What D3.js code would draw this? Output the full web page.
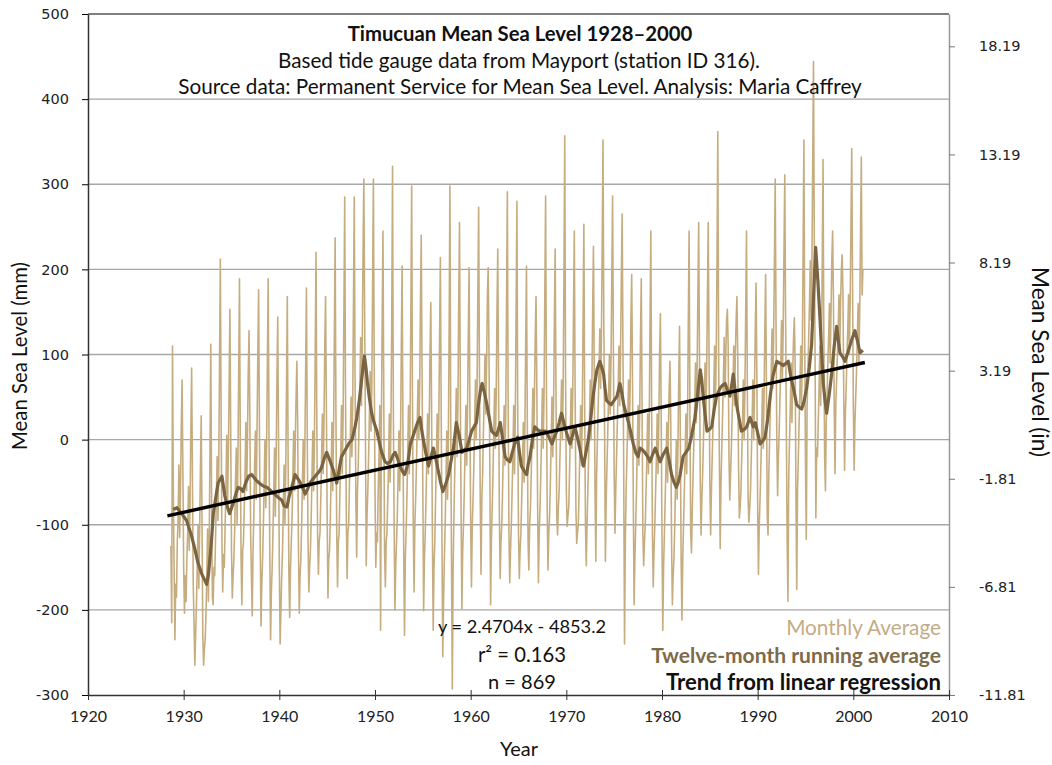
<!DOCTYPE html>
<html>
<head>
<meta charset="utf-8">
<title>Timucuan Mean Sea Level 1928–2000</title>
<script src="https://cdn.jsdelivr.net/npm/d3@7"></script>
<style>
  body { margin: 0; background: #fff; }
  text { font-family: Lato, "Open Sans", sans-serif; fill: #111; }
  .tick text.num { font-family: "DejaVu Sans", sans-serif; }
</style>
</head>
<body>
<script>
var width = 1052, height = 765;
var plotLeft = 88, plotRight = 949, plotTop = 14, plotBottom = 695;

// axis ticks
var yearTicks = [1920, 1930, 1940, 1950, 1960, 1970, 1980, 1990, 2000, 2010];
var mmTicks = [-300, -200, -100, 0, 100, 200, 300, 400, 500];
var inchTicks = ["-11.81", "-6.81", "-1.81", "3.19", "8.19", "13.19", "18.19"];

// monthly mean sea level (mm), one row per year, first row starts Aug 1928
var firstYear = 1928, firstMonth = 8;
var monthlyMm = [
  [-125,-215,110,-60,-150],
  [-235,-170,-185,-120,-95,-30,-115,-60,15,70,-35,-150],
  [-204,-160,-190,-140,-110,-55,-130,-75,10,84,-45,-170],
  [-215,-265,-230,-195,-150,-100,-175,-110,-35,28,-95,-230],
  [-265,-245,-235,-205,-160,-105,-190,-125,-15,112,-65,-185],
  [-194,-150,-160,-115,-70,-20,-95,-35,90,212,25,-120],
  [-179,-135,-150,-100,-60,5,-80,-20,60,153,10,-130],
  [-186,-160,-140,-105,-50,-10,-100,-30,75,189,0,-140],
  [-194,-130,-120,-80,-40,20,-60,0,80,128,30,-110],
  [-160,-207,-130,-90,-30,10,-70,10,100,176,20,-120],
  [-219,-170,-140,-100,-50,0,-80,-10,90,189,10,-130],
  [-235,-180,-150,-110,-60,-10,-90,-20,70,144,0,-150],
  [-240,-200,-160,-130,-80,-30,-100,-40,60,168,-20,-160],
  [-209,-150,-120,-90,-40,10,-60,0,50,92,20,-130],
  [-204,-160,-140,-100,-50,0,-70,-10,80,178,10,-120],
  [-179,-150,-130,-90,-40,10,-60,0,100,220,20,-110],
  [-158,-120,-110,-70,-20,30,-40,20,110,168,40,-90],
  [-186,-140,-130,-90,-40,20,-60,10,120,237,30,-110],
  [-173,-120,-110,-60,-20,40,-40,30,150,285,60,-90],
  [-163,-110,-100,-50,0,50,-20,40,160,285,70,-70],
  [-138,-60,-30,20,60,120,40,110,220,306,150,10],
  [-148,-90,-60,-20,30,80,10,60,180,306,90,-60],
  [-150,-110,-120,-60,-20,40,-224,20,140,245,50,-130],
  [-173,-120,-110,-70,-30,30,-50,20,140,321,40,-100],
  [-200,-150,-120,-90,-40,10,-60,0,110,204,20,-130],
  [-230,-140,-110,-70,-20,40,-40,30,150,298,50,-100],
  [-179,-100,-70,-30,20,70,0,60,160,240,80,-60],
  [-201,-140,-110,-70,-20,30,-40,20,100,161,30,-110],
  [-224,-150,-120,-70,-20,30,-40,20,120,214,40,-120],
  [-255,-190,-140,-100,-50,10,-70,0,130,298,20,-150],
  [-293,-150,-90,-40,10,60,-20,40,160,255,60,-90],
  [-199,-130,-100,-60,-10,40,-30,30,120,202,40,-100],
  [-173,-100,-70,-30,20,70,0,60,170,273,80,-70],
  [-158,-70,-40,10,50,100,30,90,170,202,100,-30],
  [-194,-120,-80,-40,10,60,-10,50,150,224,60,-90],
  [-163,-120,-100,-60,-10,40,-30,30,160,291,50,-110],
  [-168,-130,-100,-60,-20,40,-40,30,150,280,40,-110],
  [-163,-130,-110,-70,-30,20,-50,10,110,204,30,-120],
  [-153,-100,-80,-40,10,60,-10,50,120,168,60,-80],
  [-168,-110,-80,-40,10,60,-10,50,170,286,70,-80],
  [-153,-110,-90,-50,0,50,-20,40,140,224,60,-90],
  [-112,-80,-60,-20,20,70,0,60,190,357,80,-60],
  [-102,-90,-80,-40,10,60,-10,50,150,245,60,-80],
  [-122,-110,-100,-60,-10,40,-30,30,140,253,40,-100],
  [-148,-100,-60,-20,20,70,0,60,150,227,80,-60],
  [-143,-40,0,40,80,130,60,120,230,352,140,10],
  [-143,-70,-30,10,50,100,30,90,190,286,110,-40],
  [-110,-60,-20,20,60,110,40,100,190,265,110,-40],
  [-240,-120,-60,-20,20,70,0,60,140,194,70,-70],
  [-194,-140,-100,-60,-10,40,-30,30,120,189,40,-110],
  [-148,-120,-100,-60,-20,30,-40,20,140,245,40,-110],
  [-173,-130,-100,-60,-20,30,-40,20,100,148,30,-120],
  [-224,-150,-110,-70,-30,20,-50,10,60,92,20,-120],
  [-194,-160,-140,-100,-50,0,-70,-10,70,133,0,-140],
  [-212,-140,-100,-60,-20,30,-40,20,140,245,40,-110],
  [-133,-80,-40,0,40,90,20,80,170,255,100,-50],
  [-112,-70,-40,0,40,90,20,80,170,255,100,-50],
  [-112,-60,-20,20,60,110,40,100,210,362,110,-30],
  [-128,-50,-10,30,70,120,50,100,140,153,110,-20],
  [-71,-40,-10,30,60,110,40,100,140,168,100,-30],
  [-92,-80,-60,-20,20,70,0,60,150,245,70,-70],
  [-97,-80,-60,-20,20,70,0,60,130,184,70,-80],
  [-158,-100,-70,-30,10,60,-10,50,130,194,60,-90],
  [-112,-40,0,40,80,130,60,120,210,306,140,0],
  [-66,-20,10,50,90,140,70,130,220,311,150,10],
  [-120,-190,-40,0,40,90,20,80,120,143,90,-60],
  [-176,-60,-20,20,60,110,40,100,220,352,120,-30],
  [-117,40,80,120,160,210,140,200,320,444,240,100],
  [-92,-10,-20,20,60,110,40,100,210,329,120,-20],
  [-60,20,50,90,120,160,90,150,210,245,170,40],
  [-40,40,70,100,130,170,100,160,200,217,170,50],
  [-36,30,60,100,130,170,100,160,250,342,190,40],
  [-36,20,50,80,120,160,90,150,240,332,170,200]
];

// twelve-month running average
var runYears = [1928.9,1929.3,1929.8,1930.3,1930.8,1931.2,1931.5,1931.9,1932.2,1932.4,1932.6,1932.9,
  1933.1,1933.4,1933.6,1934.0,1934.3,1934.6,1934.8,1935.2,1935.5,1935.7,1936.0,1936.2,1936.5,1936.8,
  1937.1,1937.4,1937.6,1938.1,1938.4,1938.7,1939.2,1939.6,1940.0,1940.25,1940.5,1940.8,1941.0,1941.3,
  1941.65,1942.0,1942.2,1942.5,1942.7,1943.0,1943.2,1943.6,1943.9,1944.2,1944.4,1944.7,1944.95,1945.3,
  1945.65,1946.0,1946.3,1946.5,1946.8,1947.0,1947.3,1947.6,1947.9,1948.1,1948.35,1948.55,1948.75,1948.9,
  1949.05,1949.2,1949.4,1949.65,1949.9,1950.2,1950.45,1950.7,1951.05,1951.3,1951.6,1951.9,1952.1,1952.35,
  1952.6,1952.85,1953.1,1953.4,1953.7,1954.0,1954.2,1954.45,1954.7,1954.9,1955.05,1955.3,1955.6,1955.85,
  1956.1,1956.35,1956.6,1956.85,1957.1,1957.4,1957.7,1957.95,1958.2,1958.5,1958.8,1959.1,1959.35,1959.6,
  1959.85,1960.1,1960.35,1960.6,1960.8,1961.0,1961.2,1961.45,1961.7,1961.95,1962.2,1962.45,1962.7,1962.9,
  1963.1,1963.35,1963.6,1963.85,1964.1,1964.35,1964.6,1964.9,1965.1,1965.3,1965.55,1965.85,1966.0,1966.2,
  1966.45,1966.7,1966.95,1967.2,1967.5,1967.8,1968.1,1968.5,1968.75,1969.0,1969.25,1969.5,1969.85,1970.1,
  1970.4,1970.65,1970.9,1971.15,1971.4,1971.6,1971.8,1972.05,1972.3,1972.55,1972.8,1973.0,1973.2,1973.5,
  1973.7,1973.9,1974.05,1974.2,1974.45,1974.7,1975.0,1975.3,1975.6,1975.8,1976.0,1976.25,1976.5,1976.75,
  1977.0,1977.25,1977.5,1977.7,1977.95,1978.2,1978.5,1978.75,1979.0,1979.3,1979.55,1979.8,1980.1,1980.5,
  1980.75,1981.0,1981.25,1981.5,1981.7,1981.9,1982.2,1982.5,1982.8,1983.1,1983.45,1983.65,1983.8,1984.0,
  1984.15,1984.3,1984.5,1984.7,1984.95,1985.2,1985.45,1985.7,1986.1,1986.35,1986.6,1986.85,1987.1,1987.3,
  1987.45,1987.6,1987.8,1988.05,1988.3,1988.6,1988.85,1989.2,1989.55,1989.75,1990.0,1990.25,1990.5,1990.77,
  1991.0,1991.3,1991.6,1992.0,1992.3,1992.68,1993.0,1993.2,1993.45,1993.73,1994.08,1994.35,1994.6,1994.85,
  1995.12,1995.4,1995.64,1995.85,1996.06,1996.3,1996.51,1996.7,1996.86,1997.05,1997.21,1997.5,1997.73,1998.0,
  1998.26,1998.45,1998.6,1998.9,1999.13,1999.5,1999.82,2000.17,2000.45,2000.7,2001.0];
var runMm = [-82,-80,-87,-95,-112,-130,-145,-158,-165,-170,-158,-120,
  -87,-65,-51,-43,-66,-80,-87,-74,-62,-56,-58,-61,-50,-43,
  -41,-45,-48,-53,-55,-56,-61,-65,-69,-71,-78,-79,-68,-56,
  -41,-47,-51,-58,-64,-57,-51,-45,-41,-37,-33,-22,-15,-25,
  -36,-51,-32,-20,-14,-10,-4,0,14,26,45,65,85,98,
  85,68,50,31,20,10,-3,-15,-26,-28,-26,-18,-15,-22,
  -31,-37,-41,-30,-5,5,12,20,26,10,0,-15,-31,-20,
  -10,-22,-36,-50,-61,-52,-41,-25,-10,20,5,-15,-12,-10,
  0,10,15,20,40,56,66,55,41,25,10,7,5,12,
  20,0,-20,-24,-26,-15,-5,3,-15,-31,-36,-41,-30,-20,
  0,15,12,10,10,10,5,-5,3,10,20,31,15,5,
  -5,5,15,3,-10,-22,-31,-15,0,25,51,68,82,92,
  85,77,60,46,43,41,46,51,66,55,41,30,20,8,
  -5,-15,-20,-10,-12,-15,-20,-26,-18,-10,-18,-26,-18,-10,
  -25,-41,-50,-56,-50,-41,-20,-15,-10,5,26,45,62,82,
  70,51,30,10,12,15,35,51,61,64,66,58,51,65,
  77,62,41,25,10,12,15,26,15,20,8,-5,-2,3,
  20,50,75,92,90,87,90,92,75,61,41,38,36,45,
  61,85,112,170,226,185,143,100,66,45,31,55,77,110,
  133,115,102,97,92,105,117,128,115,102,105];

// trend from linear regression (as printed on the chart)
var trendSlope = 2.4704, trendIntercept = -4853.2;
var trendYears = [1928.3, 2001.2];

var monthlyColor = "#c6ad80", runColor = "#7a6441";

var svg = d3.select("body")
            .append("svg")
            .attr("width", width)
            .attr("height", height);

var x = d3.scaleLinear().domain([1920, 2010]).range([plotLeft, plotRight]);
var y = d3.scaleLinear().domain([-300, 500]).range([plotBottom, plotTop]);
var yIn = d3.scaleLinear().domain([-300 / 25.4, 500 / 25.4]).range([plotBottom, plotTop]);

// gridlines
svg.append("g")
   .selectAll("line")
   .data(mmTicks.filter(function(d){ return d > -300 && d < 500; }))
   .enter()
   .append("line")
   .attr("x1", plotLeft).attr("x2", plotRight)
   .attr("y1", function(d){ return y(d); })
   .attr("y2", function(d){ return y(d); })
   .attr("stroke", "#a6a6a6")
   .attr("stroke-width", 1.4);

// top border
svg.append("line")
   .attr("x1", plotLeft).attr("x2", plotRight)
   .attr("y1", plotTop).attr("y2", plotTop)
   .attr("stroke", "#555").attr("stroke-width", 1.5);

// series
var monthly = [];
monthlyMm.forEach(function(row, i){
  var m0 = i == 0 ? firstMonth - 1 : 0;
  row.forEach(function(v, j){
    monthly.push({t: firstYear + i + (m0 + j + 1) / 12, v: v});
  });
});
var running = runYears.map(function(t, i){ return {t: t, v: runMm[i]}; });
var trend = trendYears.map(function(t){ return {t: t, v: trendSlope * t + trendIntercept}; });

var line = d3.line()
             .x(function(d){ return x(d.t); })
             .y(function(d){ return y(d.v); });

svg.append("path").datum(monthly)
   .attr("d", line).attr("fill", "none")
   .attr("stroke", monthlyColor).attr("stroke-width", 1.6)
   .attr("stroke-linejoin", "round");
svg.append("path").datum(running)
   .attr("d", line).attr("fill", "none")
   .attr("stroke", runColor).attr("stroke-width", 3.2)
   .attr("stroke-linejoin", "round");
svg.append("path").datum(trend)
   .attr("d", line).attr("fill", "none")
   .attr("stroke", "#000").attr("stroke-width", 3.4);

// axes (hyphen-minus labels as in the original)
var plain = function(d){ return String(d); };

var axL = svg.append("g")
             .attr("transform", "translate(" + plotLeft + ",0)")
             .call(d3.axisLeft(y).tickValues(mmTicks).tickFormat(plain).tickSize(6).tickPadding(13).tickSizeOuter(0));
axL.select(".domain").attr("stroke", "#333").attr("stroke-width", 1.5);
axL.selectAll("text").attr("class", "num").style("font-size", "14.5px").style("fill", "#222");

var axR = svg.append("g")
             .attr("transform", "translate(" + plotRight + ",0)")
             .call(d3.axisRight(yIn).tickValues(inchTicks.map(Number)).tickFormat(function(d, i){ return inchTicks[i]; })
                     .tickSize(6).tickPadding(24).tickSizeOuter(0));
axR.select(".domain").attr("stroke", "#999").attr("stroke-width", 1.5);
axR.selectAll(".tick line").attr("stroke", "#777");
axR.selectAll("text").attr("class", "num").style("font-size", "14.5px").style("fill", "#222");

var axB = svg.append("g")
             .attr("transform", "translate(0," + plotBottom + ")")
             .call(d3.axisBottom(x).tickValues(yearTicks).tickFormat(plain).tickSize(5).tickPadding(11).tickSizeOuter(0));
axB.select(".domain").attr("stroke", "#333").attr("stroke-width", 1.5);
axB.selectAll(".tick line").attr("y1", -5).attr("stroke", "#333");
axB.selectAll("text").style("font-size", "16px").style("fill", "#222");

// text helper: place and size to the width seen on the chart
function label(txt, px, py, w, opts){
  opts = opts || {};
  var t = svg.append("text")
             .attr("x", px).attr("y", py)
             .attr("text-anchor", opts.anchor || "middle")
             .attr("dominant-baseline", "central")
             .style("font-size", "18px")
             .style("font-weight", opts.bold ? "bold" : "normal")
             .style("fill", opts.color || "#111")
             .text(txt);
  if (opts.rotate) t.attr("transform", "rotate(" + opts.rotate + "," + px + "," + py + ")");
  var len = t.node().getComputedTextLength();
  t.style("font-size", (18 * w / len).toFixed(2) + "px");
  return t;
}

label("Timucuan Mean Sea Level 1928–2000", 520, 33, 345, {bold: true});
label("Based tide gauge data from Mayport (station ID 316).", 519, 60, 482);
label("Source data: Permanent Service for Mean Sea Level. Analysis: Maria Caffrey", 520, 86, 684);

label("y = 2.4704x - 4853.2", 522, 626, 168);
label("r² = 0.163", 522, 654, 88);
label("n = 869", 522, 681, 68);

label("Monthly Average", 941, 626, 155, {anchor: "end", color: "#c4ab86"});
label("Twelve-month running average", 941, 654, 290, {anchor: "end", bold: true, color: "#7d6a48"});
label("Trend from linear regression", 941, 681, 275, {anchor: "end", bold: true});

label("Mean Sea Level (mm)", 19, 356, 188, {rotate: -90});
label("Mean Sea Level (in)", 1040, 362, 190, {rotate: 90});
label("Year", 519, 748, 38);
</script>
</body>
</html>
